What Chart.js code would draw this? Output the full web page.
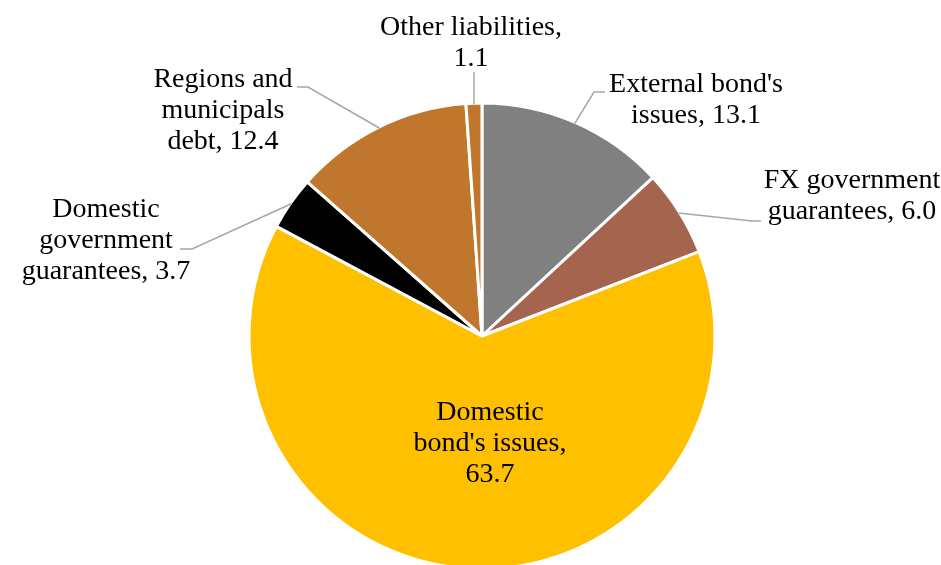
<!DOCTYPE html>
<html>
<head>
<meta charset="utf-8">
<script src="https://cdn.jsdelivr.net/npm/chart.js@4/dist/chart.umd.min.js"></script>
<style>
    html, body { margin: 0; padding: 0; background: #fff; overflow: hidden; }
    #wrap { width: 941px; height: 672px; }
</style>
</head>
<body>
<div id="wrap"><canvas id="debtChart" width="941" height="672"></canvas></div>
<script>
// Datos
const categories = [
    "External bond's issues",
    'FX government guarantees',
    "Domestic bond's issues",
    'Domestic government guarantees',
    'Regions and municipals debt',
    'Other liabilities'
];
const shares = [13.1, 6.0, 63.7, 3.7, 12.4, 1.1];
const sliceColors = ['#808080', '#A5644E', '#FFC000', '#000000', '#C0762C', '#C0762C'];

// Posicion de las etiquetas (centro x, primera linea base y, palabras por linea, linea guia)
const labelLayout = [
    { x: 696, y: 92, split: [2, 2], leader: [[594, 92], [605, 92]] },
    { x: 852, y: 188, split: [2, 2], leader: [[752, 221], [761, 221]] },
    { x: 490, y: 420, split: [1, 2, 1], leader: null },
    { x: 106, y: 217, split: [1, 1, 2], leader: [[192, 249], [180, 249]] },
    { x: 223, y: 87, split: [2, 1, 2], leader: [[308, 87], [297, 87]] },
    { x: 471, y: 35, split: [2, 1], leader: [[474, 72]] }
];

const labelFont = '28px "Liberation Serif", "Times New Roman", serif';
const lineHeight = 31;

const pieLabels = {
    id: 'pieLabels',
    afterDraw(chart) {
        const ctx = chart.ctx;
        const arcs = chart.getDatasetMeta(0).data;
        ctx.save();
        arcs.forEach((arc, i) => {
            const lay = labelLayout[i];
            const mid = (arc.startAngle + arc.endAngle) / 2;
            const r = arc.outerRadius - 1;
            const ex = arc.x + Math.cos(mid) * r;
            const ey = arc.y + Math.sin(mid) * r;

            if (lay.leader) {
                ctx.strokeStyle = '#A6A6A6';
                ctx.lineWidth = 1.5;
                ctx.beginPath();
                ctx.moveTo(ex, ey);
                lay.leader.forEach(p => ctx.lineTo(p[0], p[1]));
                ctx.stroke();
            }

            const words = (categories[i] + ', ' + shares[i].toFixed(1)).split(' ');
            const lines = [];
            let k = 0;
            lay.split.forEach(n => {
                lines.push(words.slice(k, k + n).join(' '));
                k += n;
            });
            ctx.fillStyle = '#000';
            ctx.font = labelFont;
            ctx.textAlign = 'center';
            ctx.textBaseline = 'alphabetic';
            lines.forEach((t, j) => ctx.fillText(t, lay.x, lay.y + j * lineHeight));
        });
        ctx.restore();
    }
};

new Chart(document.getElementById('debtChart'), {
    type: 'pie',
    data: {
        labels: categories,
        datasets: [{
            data: shares,
            backgroundColor: sliceColors,
            borderColor: '#FFFFFF',
            borderWidth: 3,
            radius: 233
        }]
    },
    options: {
        responsive: false,
        animation: false,
        layout: { padding: { left: 23 } },
        plugins: {
            legend: { display: false },
            tooltip: { enabled: false }
        }
    },
    plugins: [pieLabels]
});
</script>
</body>
</html>
